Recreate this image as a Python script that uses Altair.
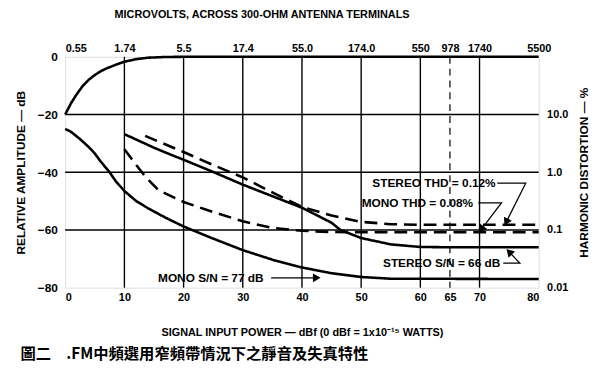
import math
import altair as alt
import pandas as pd

# ---------------- data ----------------
# Quieting (signal) curve
quiet_x = [0, 1, 2, 3, 4, 5, 6, 7, 8, 9, 10, 12, 14, 17, 20, 80]
quiet_y = [-20, -16, -12.8, -10, -7.9, -6.3, -5, -4, -3.2, -2.4, -1.7, -0.8, -0.3, -0.05, 0, 0]

# Mono S/N
mono_sn_x = [0, 1, 2.5, 4, 5, 6, 7.5, 8.5, 10, 12, 14, 17, 20, 25, 30, 35, 40, 45, 50, 55, 80]
mono_sn_y = [-25, -26, -28.5, -31.3, -33.5, -36.3, -40, -43, -46.5, -50, -52.5, -55.8, -58.8,
             -63, -67, -70.3, -73, -75, -76.3, -76.9, -77]

# Stereo S/N
stereo_sn_x = [10, 15, 20, 25, 30, 35, 40, 45, 46.5, 50, 55, 60, 65, 80]
stereo_sn_y = [-26.8, -31.5, -35.7, -39.9, -44.3, -48.3, -52.3, -57.5, -60, -62.8, -65, -65.9, -66, -66]

# Stereo THD (dashed)
stereo_thd_x = [13.5, 20, 25, 30, 35, 40, 45, 50, 55, 60, 80]
stereo_thd_y = [-27.4, -33, -37.5, -41.8, -47, -52, -55, -57.2, -58, -58.2, -58.2]

# Mono THD (dashed)
mono_thd_x = [10, 12, 13.6, 15.8, 20, 25, 30, 35, 40, 45, 50, 80]
mono_thd_y = [-32, -37.5, -41.7, -46.3, -50.3, -53.8, -57, -59.3, -60.3, -60.7, -60.8, -60.8]

# Axes
bottom_ticks = [0, 10, 20, 30, 40, 50, 60, 65, 70, 80]
top_labels = ["0.55", "1.74", "5.5", "17.4", "55.0", "174.0", "550", "978", "1740", "5500"]
left_ticks = [0, -20, -40, -60, -80]
right_ticks = [-20, -40, -60, -80]
right_labels = ["10.0", "1.0", "0.1", "0.01"]
grid_x = [10, 20, 30, 40, 50, 60, 70]
grid_x_dashed = [65]
grid_y = [-20, -40, -60]

# Annotations
ann_text = ["STEREO THD = 0.12%", "MONO THD = 0.08%", "STEREO S/N = 66 dB", "MONO S/N = 77 dB"]
ann_x = [62.3, 59.5, 63.6, 24.6]
ann_y = [-43.8, -50.6, -71.3, -76.6]

lead_group = [1, 1, 1, 2, 2, 2, 3, 3, 3, 4, 4]
lead_x = [73.0, 77.8, 74.5, 69.8, 73.7, 70.3, 74.0, 76.8, 75.0, 34.8, 42.5]
lead_y = [-43.8, -43.8, -57.3, -50.6, -50.6, -59.8, -71.5, -71.5, -67.6, -76.6, -76.6]

# ---------------- tables ----------------
rows = []
for name, style, xs_, ys_ in [
    ("quieting", "solid", quiet_x, quiet_y),
    ("mono_sn", "solid", mono_sn_x, mono_sn_y),
    ("stereo_sn", "solid", stereo_sn_x, stereo_sn_y),
    ("stereo_thd", "dashed", stereo_thd_x, stereo_thd_y),
    ("mono_thd", "dashed", mono_thd_x, mono_thd_y),
]:
    for i, (a, b) in enumerate(zip(xs_, ys_)):
        rows.append({"series": name, "style": style, "x": a, "db": b, "o": i})
curves_df = pd.DataFrame(rows)

lead_df = pd.DataFrame({"g": lead_group, "x": lead_x, "db": lead_y,
                        "o": list(range(len(lead_x)))})

# arrow heads: last point of each leader, rotated along the last segment (pixel space)
PX_X = 480 / 80.0
PX_Y = 234 / 80.0
heads = []
for g in sorted(set(lead_group)):
    pts = [(x, y) for gg, x, y in zip(lead_group, lead_x, lead_y) if gg == g]
    (x0, y0), (x1, y1) = pts[-2], pts[-1]
    dx = (x1 - x0) * PX_X
    dy = -(y1 - y0) * PX_Y
    ang = math.degrees(math.atan2(dx, -dy)) % 360
    heads.append({"x": x1, "db": y1, "angle": ang})
heads_df = pd.DataFrame(heads)

ann_df = pd.DataFrame({"t": ann_text, "x": ann_x, "db": ann_y})


def ternary(vals, labs):
    e = "''"
    for v, l in reversed(list(zip(vals, labs))):
        e = f"datum.value == {v} ? '{l}' : ({e})"
    return e


FONT = "Liberation Sans"
xs = alt.Scale(domain=[0, 80], nice=False, zero=False)
ys = alt.Scale(domain=[-80, 0], nice=False, zero=False)

# ---------------- layers ----------------
vgrid = alt.Chart(pd.DataFrame({"x": grid_x})).mark_rule(color="black", strokeWidth=1.4).encode(
    x=alt.X("x:Q", scale=xs, axis=alt.Axis(
        orient="top", values=bottom_ticks, labelExpr=ternary(bottom_ticks, top_labels),
        ticks=False, domain=False, grid=False, labelFont=FONT, labelFontSize=11,
        labelFontWeight="bold", labelColor="black", labelPadding=3,
        labelAlign={"condition": {"test": "datum.value == 0", "value": "left"}, "value": "center"},
        title="MICROVOLTS, ACROSS 300-OHM ANTENNA TERMINALS", titleFont=FONT,
        titleFontSize=11, titleFontWeight="bold", titleColor="black", titlePadding=24,
        titleX=199)),
)

vgrid_d = alt.Chart(pd.DataFrame({"x": grid_x_dashed})).mark_rule(
    color="black", strokeWidth=1.2, strokeDash=[7, 5]).encode(
    x=alt.X("x:Q", scale=xs, axis=None),
)

hgrid = alt.Chart(pd.DataFrame({"db": grid_y})).mark_rule(color="black", strokeWidth=1.4).encode(
    y=alt.Y("db:Q", scale=ys, axis=alt.Axis(
        orient="right", values=right_ticks, labelExpr=ternary(right_ticks, right_labels),
        ticks=False, domain=False, grid=False, labelFont=FONT, labelFontSize=11,
        labelFontWeight="bold", labelColor="black", labelPadding=8, labelAlign="left",
        title="HARMONIC DISTORTION — %", titleFont=FONT, titleFontSize=12,
        titleFontWeight="bold", titleColor="black", titleAngle=270,
        titleX=45, titleY=117, titleAlign="center", titleBaseline="middle")),
)

curves = alt.Chart(curves_df).mark_line(color="black", strokeWidth=2.6, strokeCap="butt").encode(
    x=alt.X("x:Q", scale=xs, axis=alt.Axis(
        orient="bottom", values=bottom_ticks, ticks=False, domain=False, grid=False,
        labelFont=FONT, labelFontSize=11, labelFontWeight="bold", labelColor="black",
        labelPadding=4, title="SIGNAL INPUT POWER — dBf (0 dBf = 1x10⁻¹⁵ WATTS)",
        titleFont=FONT, titleFontSize=11, titleFontWeight="bold", titleColor="black",
        titlePadding=24)),
    y=alt.Y("db:Q", scale=ys, axis=alt.Axis(
        orient="left", values=left_ticks, ticks=False, domain=False, grid=False,
        labelFont=FONT, labelFontSize=12, labelFontWeight="bold", labelColor="black",
        labelPadding=8, title="RELATIVE AMPLITUDE — dB", titleFont=FONT, titleFontSize=12,
        titleFontWeight="bold", titleColor="black", titlePadding=10)),
    detail="series:N",
    order="o:Q",
    strokeDash=alt.StrokeDash("style:N", scale=alt.Scale(
        domain=["solid", "dashed"], range=[[1, 0], [13, 7]]), legend=None),
)

leads = alt.Chart(lead_df).mark_line(color="black", strokeWidth=1.3).encode(
    x=alt.X("x:Q", scale=xs, axis=None),
    y=alt.Y("db:Q", scale=ys, axis=None),
    detail="g:N",
    order="o:Q",
)

arrow_heads = alt.Chart(heads_df).mark_point(
    shape="triangle-up", filled=True, color="black", opacity=1, size=80).encode(
    x=alt.X("x:Q", scale=xs, axis=None),
    y=alt.Y("db:Q", scale=ys, axis=None),
    angle=alt.Angle("angle:Q", scale=None),
)

labels = alt.Chart(ann_df).mark_text(
    font=FONT, fontSize=12, fontWeight="bold", color="black", align="center",
    baseline="middle").encode(
    x=alt.X("x:Q", scale=xs, axis=None),
    y=alt.Y("db:Q", scale=ys, axis=None),
    text="t:N",
)

chart = alt.layer(vgrid, vgrid_d, hgrid, curves, leads, arrow_heads, labels).resolve_axis(
    x="independent", y="independent"
).properties(
    width=480, height=234,
    autosize=alt.AutoSizeParams(type="none"),
    padding={"left": 58, "top": 47, "right": 54, "bottom": 83},
    title=alt.TitleParams(
        "圖二\u3000.FM中頻選用窄頻帶情況下之靜音及失真特性", orient="bottom", anchor="start",
        font="Noto Sans CJK TC", fontSize=15.5, fontWeight="bold", color="black",
        dx=6, offset=10),
).configure_view(stroke="black", strokeWidth=2.2).configure(background="white")

chart.save("out.html", embed_options={"renderer": "svg", "actions": False})
